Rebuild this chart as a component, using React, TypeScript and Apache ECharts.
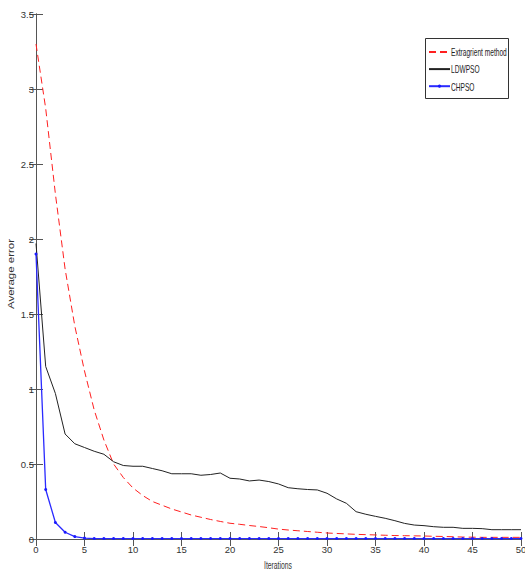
import React, { useEffect, useRef } from "react";
import * as echarts from "echarts";

const seriesNames = ["Extragrient method", "LDWPSO", "CHPSO"];

// Average error per iteration (0..50)
const extragrient = [
  3.3, 2.87, 2.3, 1.8, 1.42, 1.12, 0.86, 0.66, 0.5, 0.41,
  0.34, 0.29, 0.25, 0.225, 0.2, 0.18, 0.16, 0.145, 0.13, 0.117,
  0.105, 0.098, 0.09, 0.083, 0.075, 0.066, 0.06, 0.055, 0.05, 0.045,
  0.04, 0.037, 0.034, 0.031, 0.029, 0.027, 0.025, 0.023, 0.022, 0.021,
  0.02, 0.018, 0.017, 0.015, 0.013, 0.012, 0.011, 0.011, 0.011, 0.011, 0.011,
];

const ldwpso = [
  1.97, 1.15, 0.97, 0.7, 0.635, 0.61, 0.585, 0.565, 0.515, 0.49,
  0.485, 0.485, 0.47, 0.455, 0.435, 0.435, 0.435, 0.425, 0.43, 0.44,
  0.405, 0.4, 0.387, 0.393, 0.383, 0.367, 0.342, 0.335, 0.33, 0.327,
  0.305, 0.267, 0.238, 0.182, 0.165, 0.151, 0.138, 0.122, 0.104, 0.093,
  0.089, 0.082, 0.078, 0.078, 0.071, 0.071, 0.069, 0.062, 0.062, 0.062, 0.062,
];

const chpso = [
  1.9, 0.33, 0.11, 0.045, 0.016, 0.006, 0.003, 0.003, 0.003, 0.003,
  0.003, 0.003, 0.003, 0.003, 0.003, 0.003, 0.003, 0.003, 0.003, 0.003,
  0.003, 0.003, 0.003, 0.003, 0.003, 0.003, 0.003, 0.003, 0.003, 0.003,
  0.003, 0.003, 0.003, 0.003, 0.003, 0.003, 0.003, 0.003, 0.003, 0.003,
  0.003, 0.003, 0.003, 0.003, 0.003, 0.003, 0.003, 0.003, 0.003, 0.003, 0.003,
];

const xTitle = "Iterations";
const yTitle = "Average error";

const FONT = "Arial, 'Liberation Sans', sans-serif";
const AXIS_COLOR = "#555";
const SERIES_COLORS = ["#ff2020", "#222222", "#2a2aff"];

const toPairs = (vals: number[]) => vals.map((v, i) => [i, v]);

// legend layout (manual frame + scaled texts, icons from the legend component)
const LEGEND_X = 425.5;
const LEGEND_Y = 38.5;
const LEGEND_ROWS = [52, 69.5, 87];

export default function App() {
  const ref = useRef<HTMLDivElement>(null);

  useEffect(() => {
    if (!ref.current) return;
    const chart = echarts.init(ref.current, undefined, { renderer: "svg" });

    const axisLine = { show: true, lineStyle: { color: AXIS_COLOR, width: 1 } };
    const tick = { show: true, inside: true, length: 7, lineStyle: { color: AXIS_COLOR } };

    const legendTexts = seriesNames.map((n, i) => ({
      type: "text",
      z: 6,
      x: 451,
      y: LEGEND_ROWS[i],
      scaleX: 0.6,
      style: {
        text: n,
        fill: "#222",
        font: `11px ${FONT}`,
        align: "left",
        verticalAlign: "middle",
      },
    }));

    chart.setOption({
      animation: false,
      backgroundColor: "#fff",
      grid: { left: 36, right: 4, top: 14, bottom: 33, containLabel: false, outerBoundsMode: "none" },
      xAxis: [
        {
          type: "value",
          min: 0,
          max: 50,
          interval: 5,
          position: "bottom",
          axisLine,
          axisTick: tick,
          axisLabel: { color: "#333", fontFamily: FONT, fontSize: 9.5, margin: 5 },
          splitLine: { show: false },
        },
        {
          type: "value",
          min: 0,
          max: 50,
          interval: 5,
          position: "top",
          axisLine,
          axisTick: tick,
          axisLabel: { show: false },
          splitLine: { show: false },
        },
      ],
      yAxis: [
        {
          type: "value",
          min: 0,
          max: 3.5,
          interval: 0.5,
          position: "left",
          axisLine,
          axisTick: tick,
          axisLabel: { color: "#333", fontFamily: FONT, fontSize: 9.5, margin: 2 },
          splitLine: { show: false },
        },
        {
          type: "value",
          min: 0,
          max: 3.5,
          interval: 0.5,
          position: "right",
          axisLine,
          axisTick: tick,
          axisLabel: { show: false },
          splitLine: { show: false },
        },
      ],
      legend: {
        orient: "vertical",
        left: 428,
        top: LEGEND_ROWS[0] - 2,
        padding: 0,
        itemWidth: 21,
        itemHeight: 4,
        itemGap: 13.5,
        z: 6,
        formatter: () => "",
        textStyle: { fontSize: 1, padding: 0 },
        data: [
          { name: seriesNames[0], itemStyle: { opacity: 0 } },
          { name: seriesNames[1], itemStyle: { opacity: 0 } },
          { name: seriesNames[2] },
        ],
      },
      graphic: [
        {
          type: "rect",
          z: 5,
          shape: { x: LEGEND_X, y: LEGEND_Y, width: 83, height: 60 },
          style: { fill: "#fff", stroke: "#333", lineWidth: 1 },
        },
        ...legendTexts,
        {
          type: "text",
          z: 5,
          x: 278,
          y: 565,
          scaleX: 0.62,
          style: {
            text: xTitle,
            fill: "#333",
            font: `11px ${FONT}`,
            align: "center",
            verticalAlign: "middle",
          },
        },
        {
          type: "text",
          z: 5,
          x: 11,
          y: 274,
          rotation: Math.PI / 2,
          scaleY: 0.75,
          style: {
            text: yTitle,
            fill: "#333",
            font: `11.5px ${FONT}`,
            align: "center",
            verticalAlign: "middle",
          },
        },
      ],
      series: [
        {
          name: seriesNames[0],
          type: "line",
          data: toPairs(extragrient),
          symbol: "none",
          lineStyle: { color: SERIES_COLORS[0], width: 1, type: [7, 4] },
          itemStyle: { color: SERIES_COLORS[0] },
          z: 2,
        },
        {
          name: seriesNames[1],
          type: "line",
          data: toPairs(ldwpso),
          symbol: "none",
          lineStyle: { color: SERIES_COLORS[1], width: 1 },
          itemStyle: { color: SERIES_COLORS[1] },
          z: 3,
        },
        {
          name: seriesNames[2],
          type: "line",
          data: toPairs(chpso),
          symbol: "circle",
          symbolSize: 3,
          lineStyle: { color: SERIES_COLORS[2], width: 1.3 },
          itemStyle: { color: "#1a1aff" },
          z: 4,
        },
      ],
    });

    return () => chart.dispose();
  }, []);

  return (
    <div
      ref={ref}
      style={{ position: "fixed", left: 0, top: 0, width: 525, height: 572 }}
    />
  );
}
